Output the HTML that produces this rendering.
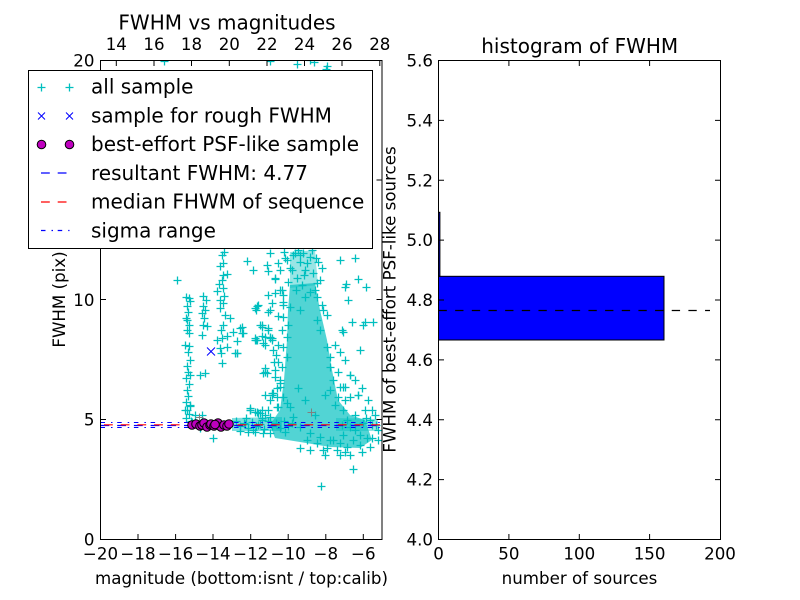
<!DOCTYPE html>
<html>
<head>
<meta charset="utf-8">
<style>
html,body{margin:0;padding:0;background:#fff;}
svg{display:block;}
text{font-family:"DejaVu Sans","Liberation Sans",sans-serif;fill:#000;}
.t{font-size:16.67px;}
.big{font-size:20px;}
</style>
</head>
<body>
<svg width="800" height="600" viewBox="0 0 800 600" xmlns="http://www.w3.org/2000/svg">
<defs>
  <clipPath id="cl"><rect x="100.5" y="60.5" width="281.5" height="479"/></clipPath>
  <marker id="pc" markerWidth="10" markerHeight="10" refX="5" refY="5" markerUnits="userSpaceOnUse" overflow="visible">
    <path d="M1.5 5.5H9.5M5.5 1.5V9.5" stroke="#00bfbf" stroke-width="1.3" fill="none"/>
  </marker>
</defs>
<rect width="800" height="600" fill="#fff"/>

<!-- ===== LEFT PLOT ===== -->
<g clip-path="url(#cl)">
  <!-- dense core -->
  <polygon points="290,252 315,250 318,285 290,288" fill="#00bfbf" fill-opacity="0.4"/>
  <polygon points="290,285 315,283 320,310 327,340 332,370 338,400 350,415 365,420 372,440 360,448 330,447 300,442 275,438 270,425 280,410 284,380 287,340 288,310" fill="#00bfbf" fill-opacity="0.68"/>
  <polygon points="232,418 282,417 282,431 232,431" fill="#00bfbf" fill-opacity="0.5"/>
  <polygon points="336,418 378,419 378,431 336,431" fill="#00bfbf" fill-opacity="0.4"/>
  <!-- scatter -->
  <polyline fill="none" stroke="none" marker-start="url(#pc)" marker-mid="url(#pc)" marker-end="url(#pc)" points="
  186,297 189,298 190,301 187,306 188,312 186,318 187,320 189,325 187,330 189,333 185,345 189,346 188,352 190,360 187,366 188,372 186,378 189,384 187,390 188,396 186,402 190,406 187,410 189,414 186,418 191,421 177,280 190,375 200,375 205,373
  222,255 224,252 223,263 220,266 223,275 227,274 222,280 217,291 223,288 219,284 224,296 220,300 223,303 220,308 225,315 230,318 223,325 221,330 222,338 227,336 217,340 227,347 220,348 221,353 237,353 222,363 235,353
  203,296 206,300 203,306 205,310 202,313 204,318 203,325 207,326 202,335
  247,261 253,270 268,271 275,279 278,263 270,253 240,328 242,333 237,341 257,306 258,305 260,325 268,328 262,336 255,338 270,338 265,345 268,295 272,303 270,310 278,316 280,290 283,295 283,305 233,332 242,327 256,310 262,325 256,340 263,373 272,340 274,362 273,393 280,387 275,293 255,308 268,312 262,327 255,340 265,337 272,338 268,330 265,368 267,373 275,377 277,388 272,395 255,412 265,415 278,407 267,265 275,278 282,290 283,302 288,325 287,337 250,408 257,412 262,410 265,395
  285,258 290,268 293,255 295,253 303,253 310,257 307,263 313,273 287,260 292,270 297,278 302,285 300,262 305,270 318,262 322,268 298,250 312,250 280,270 305,297 300,310 290,307 283,317 282,330 283,347 287,357 282,367 280,383 283,397 290,407 293,417 300,427 310,433 317,443 323,450 333,440 307,440 317,283 322,305 317,320 320,330 327,347 330,357 333,380 340,387 343,410 347,420 350,427 360,435 327,448 337,450 320,437 330,440 340,443 347,447 353,440 360,445 367,438 372,425 363,423 350,397 345,387 338,397 358,395 330,367 323,310 327,315 317,297 335,405 325,395 342,425 315,415 305,400 298,388
  345,287 358,279 352,322 365,322 342,330 350,375 363,325 373,322 346,284 366,287 340,260 355,258 348,300 360,350 365,410 370,420 375,415 372,438 378,430 353,469 321,486 213,438 345,452 325,455 310,450 300,448 343,435 355,430
  192,422 197,424 200,428 236,421 240,426 244,423 248,428 252,422 256,426 260,424 264,429 268,421 272,426 276,423 280,428 284,421 288,426 292,423 250,410 258,413 270,417 277,407 287,403 202,415 185,410 190,405 195,415 246,418 262,418 240,431 255,432 270,433 285,432
  164,61 270,61 297,64 310,60 314,62 327,66 326,69
  237,353 243,333 257,340 263,343 270,337 273,350 265,372 278,362 280,380 272,393 277,397 250,410 260,413 263,433 343,332 350,375 358,395 343,387
  335,345 340,352 345,360 338,372 355,380 362,388 368,400 372,410 366,418 376,425 378,440 370,447 362,452 350,455 340,455 355,415 345,400 330,390
  278,345 276,355 275,370 270,400 268,410 262,420 258,425 253,430 248,432 245,424
  284,252 300,255 316,258 320,280 288,282 296,290 310,292 315,290 304,275"/>
  <!-- gray pluses -->
  <path d="M307.5 412.5h8M311.5 408.5v8M195.5 417.5h8M199.5 413.5v8" stroke="#808080" stroke-width="1"/>
  <!-- blue x -->
  <path d="M207 347.5l8 8M215 347.5l-8 8" stroke="#0000ff" stroke-width="1"/>
  <!-- lines -->
  <line x1="100.5" y1="422.5" x2="382" y2="422.5" stroke="#0000ff" stroke-width="1" stroke-dasharray="4.5 6 1.5 4.7"/>
  <line x1="100.5" y1="427.5" x2="382" y2="427.5" stroke="#0000ff" stroke-width="1" stroke-dasharray="4.5 6 1.5 4.7"/>
  <line x1="100.5" y1="425.5" x2="382" y2="425.5" stroke="#0000ff" stroke-width="1.2" stroke-dasharray="8.8 7.9"/>
  <line x1="104" y1="424.8" x2="382" y2="424.8" stroke="#ff0000" stroke-width="1.2" stroke-dasharray="8.8 7.9"/>
  <!-- magenta circles -->
  <g fill="#bf00bf" stroke="#000" stroke-width="1">
    <circle cx="192" cy="425" r="4.3"/><circle cx="196" cy="424" r="4.3"/><circle cx="200" cy="426" r="4.3"/>
    <circle cx="202" cy="425" r="4.3"/><circle cx="204" cy="423" r="4.3"/><circle cx="207" cy="427" r="4.3"/>
    <circle cx="210" cy="425" r="4.3"/><circle cx="211" cy="424" r="4.3"/><circle cx="214" cy="426" r="4.3"/>
    <circle cx="218" cy="423" r="4.3"/><circle cx="221" cy="427" r="4.3"/><circle cx="224" cy="425" r="4.3"/>
    <circle cx="227" cy="426" r="4.3"/><circle cx="229" cy="424" r="4.3"/><circle cx="215" cy="424.5" r="4.3"/>
  </g>
</g>

<!-- left frame -->
<rect x="100.5" y="60.5" width="281.5" height="479" fill="none" stroke="#000" stroke-width="1"/>
<!-- left ticks -->
<path d="M100.5 539.5v-5.5M138 539.5v-5.5M175.6 539.5v-5.5M213 539.5v-5.5M250.7 539.5v-5.5M288.2 539.5v-5.5M325.8 539.5v-5.5M363.3 539.5v-5.5
M116.3 60.5v5.5M154 60.5v5.5M191.5 60.5v5.5M229.3 60.5v5.5M267 60.5v5.5M304.5 60.5v5.5M342 60.5v5.5M379.8 60.5v5.5
M100.5 419.5h5.5M100.5 299.5h5.5M100.5 180h5.5M382 419.5h-5.5M382 299.5h-5.5M382 180h-5.5" stroke="#000" stroke-width="1" fill="none"/>
<!-- left tick labels -->
<g class="t" text-anchor="middle">
  <text x="100.5" y="559.5">−20</text><text x="138" y="559.5">−18</text><text x="175.6" y="559.5">−16</text>
  <text x="213" y="559.5">−14</text><text x="250.7" y="559.5">−12</text><text x="288.2" y="559.5">−10</text>
  <text x="325.8" y="559.5">−8</text><text x="363.3" y="559.5">−6</text>
  <text x="116.3" y="50">14</text><text x="154" y="50">16</text><text x="191.5" y="50">18</text>
  <text x="229.3" y="50">20</text><text x="267" y="50">22</text><text x="304.5" y="50">24</text>
  <text x="342" y="50">26</text><text x="379.8" y="50">28</text>
</g>
<g class="t" text-anchor="end">
  <text x="94.5" y="545.5">0</text><text x="94.5" y="425.7">5</text><text x="94.5" y="305.8">10</text>
  <text x="94.5" y="186">15</text><text x="94.5" y="66.5">20</text>
</g>
<text class="big" x="227" y="29.5" text-anchor="middle">FWHM vs magnitudes</text>
<text class="t" x="241.5" y="584" text-anchor="middle">magnitude (bottom:isnt / top:calib)</text>
<text class="t" transform="translate(64.8,299.5) rotate(-90)" text-anchor="middle">FWHM (pix)</text>

<!-- legend -->
<rect x="28.5" y="70.5" width="344" height="178" fill="#fff" stroke="#000" stroke-width="1"/>
<path d="M37.5 87.5h8M41.5 83.5v8M65.5 87.5h8M69.5 83.5v8" stroke="#00bfbf" stroke-width="1.3"/>
<path d="M38 112.5l7 7M45 112.5l-7 7M66 112.5l7 7M73 112.5l-7 7" stroke="#0000ff" stroke-width="1"/>
<circle cx="41.5" cy="144.5" r="4.3" fill="#bf00bf" stroke="#000" stroke-width="1"/>
<circle cx="69.5" cy="144.5" r="4.3" fill="#bf00bf" stroke="#000" stroke-width="1"/>
<line x1="41" y1="173" x2="69.5" y2="173" stroke="#0000ff" stroke-width="1.2" stroke-dasharray="8.8 7.9"/>
<line x1="41" y1="202" x2="69.5" y2="202" stroke="#ff0000" stroke-width="1.2" stroke-dasharray="8.8 7.9"/>
<line x1="41" y1="230.5" x2="69.5" y2="230.5" stroke="#0000ff" stroke-width="1.2" stroke-dasharray="4.5 6 1.5 4.7"/>
<g class="big">
  <text x="91" y="93.5">all sample</text>
  <text x="91" y="122.3">sample for rough FWHM</text>
  <text x="91" y="151.1">best-effort PSF-like sample</text>
  <text x="91" y="179.9">resultant FWHM: 4.77</text>
  <text x="91" y="208.7">median FHWM of sequence</text>
  <text x="91" y="237.5">sigma range</text>
</g>

<!-- ===== RIGHT PLOT ===== -->
<rect x="438.5" y="276.3" width="225.5" height="63.7" fill="#0000ff" stroke="#000" stroke-width="1"/>
<rect x="438.5" y="212.3" width="1.4" height="64" fill="#0000ff" stroke="#000" stroke-width="1"/>
<line x1="438.5" y1="310.5" x2="710" y2="310.5" stroke="#000" stroke-width="1.2" stroke-dasharray="8.33 8.33"/>
<rect x="438.5" y="60.5" width="282" height="479" fill="none" stroke="#000" stroke-width="1"/>
<path d="M438.5 120.4h5.5M438.5 180.3h5.5M438.5 240.1h5.5M438.5 300h5.5M438.5 359.9h5.5M438.5 419.8h5.5M438.5 479.6h5.5
M720.5 120.4h-5.5M720.5 180.3h-5.5M720.5 240.1h-5.5M720.5 300h-5.5M720.5 359.9h-5.5M720.5 419.8h-5.5M720.5 479.6h-5.5
M508.9 539.5v-5.5M579.3 539.5v-5.5M649.6 539.5v-5.5M508.9 60.5v5.5M579.3 60.5v5.5M649.6 60.5v5.5" stroke="#000" stroke-width="1" fill="none"/>
<g class="t" text-anchor="end">
  <text x="433" y="66.5">5.6</text><text x="433" y="126.4">5.4</text><text x="433" y="186.3">5.2</text>
  <text x="433" y="246.1">5.0</text><text x="433" y="306">4.8</text><text x="433" y="365.9">4.6</text>
  <text x="433" y="425.8">4.4</text><text x="433" y="485.6">4.2</text><text x="433" y="545.5">4.0</text>
</g>
<g class="t" text-anchor="middle">
  <text x="438.5" y="559.5">0</text><text x="508.9" y="559.5">50</text><text x="579.3" y="559.5">100</text>
  <text x="649.6" y="559.5">150</text><text x="720" y="559.5">200</text>
</g>
<text class="big" x="579.7" y="53" text-anchor="middle">histogram of FWHM</text>
<text class="t" x="579.5" y="584" text-anchor="middle">number of sources</text>
<text class="t" transform="translate(395.4,299.5) rotate(-90)" text-anchor="middle">FWHM of best-effort PSF-like sources</text>
</svg>
</body>
</html>
